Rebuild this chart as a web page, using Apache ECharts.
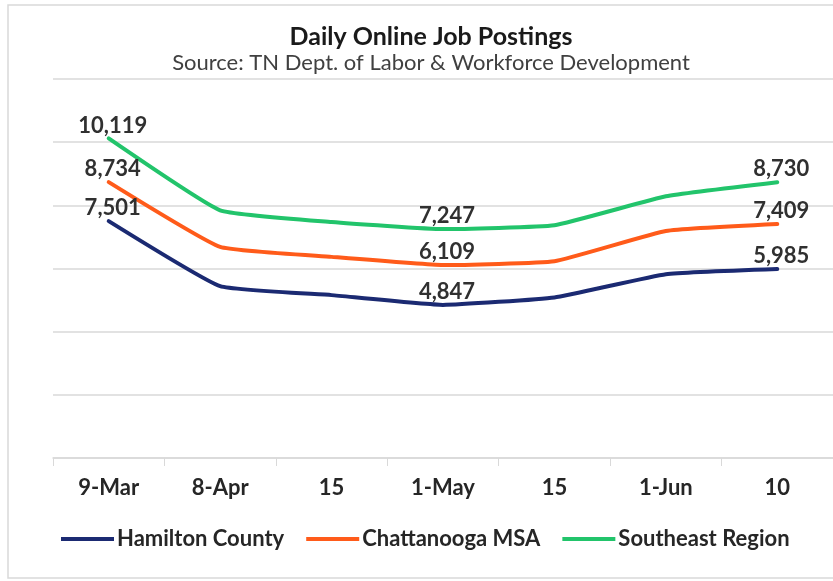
<!DOCTYPE html>
<html>
<head>
<meta charset="utf-8">
<script src="https://cdn.jsdelivr.net/npm/echarts@6/dist/echarts.min.js"></script>
<style>
  html, body { margin: 0; padding: 0; background: #fff; }
  #chart { width: 833px; height: 581px; }
</style>
</head>
<body>
<div id="chart"></div>
<script>
// Daily online job postings
const categories = ["9-Mar", "8-Apr", "15", "1-May", "15", "1-Jun", "10"];
const hamilton = [7501, 5441, 5157, 4847, 5084, 5821, 5985];
const chattanooga = [8734, 6683, 6368, 6109, 6231, 7189, 7409];
const southeast = [10119, 7843, 7474, 7247, 7369, 8285, 8730];
const labelledIdx = [0, 3, 6]; // only these points carry a value label

const fontUi = "Lato, 'Noto Sans', sans-serif";
const ink = "#262626";

function serie(name, data, color) {
  return {
    name,
    type: "line",
    data,
    symbol: "circle",
    symbolSize: 0,
    showSymbol: true,
    smooth: 0.12,
    lineStyle: { color, width: 4, cap: "round", join: "round" },
    itemStyle: { color },
    label: {
      show: true,
      position: "top",
      distance: 2,
      offset: [4, 0],
      color: "#303030",
      fontFamily: fontUi,
      fontSize: 22,
      fontWeight: "bold",
      formatter: (p) => labelledIdx.includes(p.dataIndex) ? p.value.toLocaleString("en-US") : "",
    },
    emphasis: { disabled: true },
  };
}

const chart = echarts.init(document.getElementById("chart"));
chart.setOption({
  animation: false,
  textStyle: { fontFamily: fontUi },
  graphic: [{
    type: "rect",
    shape: { x: 8, y: 5, width: 840, height: 573 },
    style: { fill: "none", stroke: "#d9d9d9", lineWidth: 1.5 },
    silent: true,
    z: -1,
  }],
  title: {
    text: "Daily Online Job Postings",
    subtext: "Source: TN Dept. of Labor & Workforce Development",
    left: 426,
    textAlign: "center",
    top: 19,
    itemGap: 3,
    textStyle: { fontFamily: fontUi, fontSize: 25, fontWeight: "bold", color: "#1a1a1a" },
    subtextStyle: { fontFamily: fontUi, fontSize: 22, color: "#404040" },
  },
  legend: {
    bottom: 26,
    left: 56,
    itemWidth: 53,
    itemHeight: 4,
    itemGap: 22,
    icon: "rect",
    textStyle: { fontFamily: fontUi, fontSize: 22, fontWeight: "bold", color: ink, padding: [0, 0, 0, -2] },
    data: ["Hamilton County", "Chattanooga MSA", "Southeast Region"],
  },
  grid: { left: 53, right: 0, top: 79, bottom: 123 },
  xAxis: {
    type: "category",
    data: categories,
    boundaryGap: true,
    axisLine: { lineStyle: { color: "#d9d9d9", width: 1.5 } },
    axisTick: { show: true, length: 8, lineStyle: { color: "#d9d9d9" } },
    axisLabel: { margin: 19, fontFamily: fontUi, fontSize: 22, fontWeight: "bold", color: ink },
  },
  yAxis: {
    type: "value",
    min: 0,
    max: 12000,
    interval: 2000,
    axisLabel: { show: false },
    axisLine: { show: false },
    axisTick: { show: false },
    splitLine: { lineStyle: { color: "#d9d9d9", width: 1.5 } },
  },
  series: [
    serie("Hamilton County", hamilton, "#1b2a72"),
    serie("Chattanooga MSA", chattanooga, "#ff5b1a"),
    serie("Southeast Region", southeast, "#22c46b"),
  ],
});
</script>
</body>
</html>
